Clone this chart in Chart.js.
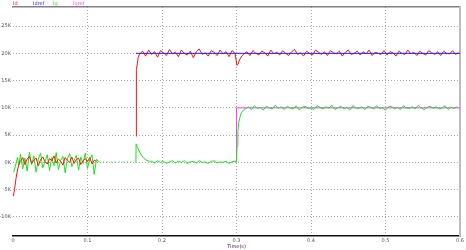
<!DOCTYPE html>
<html>
<head>
<meta charset="utf-8">
<script src="https://cdn.jsdelivr.net/npm/chart.js@4"></script>
<style>
html, body { margin: 0; padding: 0; background: #fff; }
#wrap { width: 466px; height: 250px; }
</style>
</head>
<body>
<div id="wrap"><canvas id="c"></canvas></div>
<script>
// 電流波形 (単位 K)
const seriesNames = ['Id', 'Idref', 'Iq', 'Iqref'];
const xTicks = [0, 0.1, 0.2, 0.3, 0.4, 0.5, 0.6];
const yTicks = [-10, -5, 0, 5, 10, 15, 20, 25];

// Id (赤)
const idStart = [[0.0005, -6.2], [0.002, -5.0], [0.004, -3.0], [0.006, -1.4], [0.008, -0.3]];
const idNoiseA = [0.2, 0.9, -0.4, 0.6, 1.1, -0.2, 0.4, 0.8, -0.6, 0.5, 1.0, 0.1, -0.3, 0.7, 0.3, 1.2, -0.1, 0.6, 0.2, -0.5,
  0.9, 0.4, 0.0, 1.0, -0.2, 0.5, 0.8, -0.4, 0.3, 0.7, 0.1, 0.9, -0.3, 0.4, 0.2];
const idStep = [[0.1652, 4.8], [0.1656, 17.0], [0.167, 18.2], [0.168, 19.3], [0.170, 19.9]];
const idNoiseB = [20.4, 19.5, 20.6, 19.8, 20.3, 19.3, 20.5, 20.1, 19.6, 20.7, 19.9, 20.2, 19.4, 20.6, 20.0, 19.7,
  20.4, 19.2, 20.3, 20.8, 19.8, 20.1, 19.5, 20.5, 20.2, 19.6, 20.6, 19.9, 20.3, 19.4, 20.5, 20.0];
const idDip = [[0.3005, 17.8], [0.302, 18.0], [0.304, 18.8], [0.307, 19.5], [0.310, 19.9]];
const idNoiseC = [20.3, 19.6, 20.5, 20.0, 19.7, 20.4, 20.1, 19.5, 20.6, 19.9, 20.2, 19.7, 20.5, 20.0, 19.6, 20.3, 20.7, 19.8,
  20.1, 19.5, 20.4, 20.0, 19.7, 20.6, 20.2, 19.8, 20.3, 19.6, 20.5, 20.1, 19.9, 20.4, 19.5, 20.2, 20.6, 19.8, 20.0, 20.4,
  19.7, 20.3, 19.9, 20.6, 19.6, 20.2, 20.0, 19.8, 20.5, 19.7, 20.3, 20.1, 19.5, 20.4, 20.0, 19.8, 20.6, 19.9, 20.2, 19.6,
  20.4, 20.0, 19.7, 20.5, 20.1, 19.8, 20.3, 19.6, 20.4, 20.0, 19.9, 20.5, 19.8, 20.1];

// Id 指令 (青)
const idRef = [[0.165, 20], [0.6, 20]];

// Iq (緑)
const iqStart = [[0.001, -1.8], [0.003, -0.8], [0.006, 0.9], [0.008, -0.5]];
const iqNoiseA = [1.5, -1.2, 0.8, -1.6, 1.9, -0.4, 1.2, -1.8, 0.6, 1.7, -1.0, 0.2, 1.4, -1.5, 0.9, -0.6, 1.8, -1.3, 0.4, 1.1,
  -1.9, 0.7, 1.6, -0.8, 0.3, 1.3, -1.4, 1.0, -0.2, 1.7, -1.1, 0.5, 1.4, -2.2, 0.6];
const iqIdle = [[0.115, 0.1], [0.165, 0.1]];
const iqSpike = [[0.1652, 3.4], [0.167, 2.8], [0.170, 1.9], [0.173, 1.2], [0.176, 0.7], [0.179, 0.4], [0.183, 0.2]];
const iqNoiseB = [0.2, -0.1, 0.3, 0.0, 0.2, -0.2, 0.1, 0.3, -0.1, 0.2, 0.0, 0.3, -0.2, 0.1, 0.2, -0.1, 0.3, 0.0, 0.1, -0.2,
  0.2, 0.3, -0.1, 0.1, 0.0, 0.2, -0.2, 0.1, 0.2];
const iqRise = [[0.300, 0.1], [0.3008, 3.0], [0.3018, 5.6], [0.303, 7.3], [0.305, 8.5], [0.307, 9.2], [0.310, 9.7], [0.313, 9.9]];
const iqNoiseC = [10.2, 9.7, 10.4, 9.9, 10.1, 9.6, 10.3, 10.0, 9.8, 10.5, 9.9, 10.2, 9.7, 10.3, 10.0, 9.8, 10.4, 9.6, 10.1, 10.3,
  9.9, 10.0, 9.7, 10.4, 10.1, 9.8, 10.2, 9.9, 10.5, 9.7, 10.0, 10.3, 9.8, 10.1, 9.6, 10.4, 10.0, 9.9, 10.2, 9.7,
  10.3, 10.1, 9.8, 10.4, 9.9, 10.0, 9.6, 10.2, 10.3, 9.8, 10.1, 9.7, 10.4, 10.0, 9.9, 10.2, 9.8, 10.5, 10.0, 9.7,
  10.1, 10.3, 9.9, 10.2, 9.8, 10.0, 10.4, 9.7, 10.1, 9.9, 10.2];

// Iq 指令 (マゼンタ)
const iqRef = [[0.3, 0], [0.3, 10], [0.6, 10]];

// サンプル列 (開始時刻, 刻み) を点に変換
const pts = arr => arr.map(p => ({ x: p[0], y: p[1] }));
const seg = (t0, dt, vals) => vals.map((v, i) => ({ x: t0 + i * dt, y: v }));
const gap = t => [{ x: t, y: null }];

const idData = [].concat(pts(idStart), seg(0.010, 0.003, idNoiseA), gap(0.14), pts(idStep),
  seg(0.174, 0.004, idNoiseB), pts(idDip), seg(0.314, 0.004, idNoiseC));
const iqData = [].concat(pts(iqStart), seg(0.010, 0.003, iqNoiseA), pts(iqIdle), pts(iqSpike),
  seg(0.186, 0.004, iqNoiseB), pts(iqRise), seg(0.316, 0.004, iqNoiseC));

const line = (label, data, color, order) => ({
  label: label, data: data, borderColor: color, backgroundColor: color,
  borderWidth: 1, pointRadius: 0, tension: 0, order: order,
  xAxisID: 'x', yAxisID: 'y', spanGaps: false
});

const iqSet = line(seriesNames[2], iqData, '#19e619', 2);
iqSet.segment = {
  borderDash: c => (c.p0.parsed.x >= 0.114 && c.p1.parsed.x <= 0.1651) ? [1, 3] : undefined
};

// 凡例 (色付き文字)
const legendText = {
  id: 'legendText',
  afterDraw(chart) {
    const c = chart.ctx;
    c.save();
    c.font = '5px "DejaVu Sans"';
    c.textBaseline = 'top';
    chart.data.datasets.forEach((d, i) => {
      c.fillStyle = d.borderColor;
      c.fillText(d.label, chart.chartArea.left + i * 20, 1);
    });
    c.restore();
  }
};

const tickFont = { family: 'DejaVu Sans', size: 5 };

new Chart(document.getElementById('c'), {
  type: 'line',
  data: {
    datasets: [
      line(seriesNames[0], idData, '#ff1010', 1),
      line(seriesNames[1], pts(idRef), '#2020ff', 0),
      iqSet,
      line(seriesNames[3], pts(iqRef), '#ff40ff', 3)
    ]
  },
  options: {
    responsive: true,
    maintainAspectRatio: false,
    animation: false,
    layout: { padding: { top: 7, right: 3, left: 0, bottom: 0 } },
    plugins: { legend: { display: false }, tooltip: { enabled: false } },
    scales: {
      x: {
        type: 'linear', min: 0, max: 0.6,
        afterBuildTicks: s => { s.ticks = xTicks.map(v => ({ value: v })); },
        afterFit: s => { s.height = 14; },
        ticks: { font: tickFont, color: '#50506a', padding: 2, maxRotation: 0, callback: v => String(v) },
        grid: { color: c => (c.tick && (c.tick.value === 0 || c.tick.value === 0.6)) ? 'rgba(0,0,0,0)' : '#a8a8a8', drawTicks: false },
        border: { display: true, color: '#111', width: 1.5, dash: [1, 2] },
        title: { display: true, text: 'Time(s)', font: tickFont, color: '#501060', padding: 0 }
      },
      y: {
        type: 'linear', min: -13.5, max: 28.5,
        afterBuildTicks: s => { s.ticks = yTicks.map(v => ({ value: v })); },
        afterFit: s => { s.width = 13; },
        ticks: { font: tickFont, color: '#50506a', padding: 2, callback: v => v + 'K' },
        grid: { color: '#a8a8a8', drawTicks: false },
        border: { display: false, dash: [1, 2] }
      },
      x2: {
        type: 'linear', position: 'top', min: 0, max: 0.6,
        afterFit: s => { s.height = 0; },
        ticks: { display: false }, grid: { display: false, drawTicks: false },
        border: { display: true, color: '#808080', width: 1.5 }
      },
      y2: {
        type: 'linear', position: 'right', min: -13.5, max: 28.5,
        afterFit: s => { s.width = 0; },
        ticks: { display: false }, grid: { display: false, drawTicks: false },
        border: { display: true, color: '#bbbbbb', width: 2 }
      }
    }
  },
  plugins: [legendText]
});
</script>
</body>
</html>
